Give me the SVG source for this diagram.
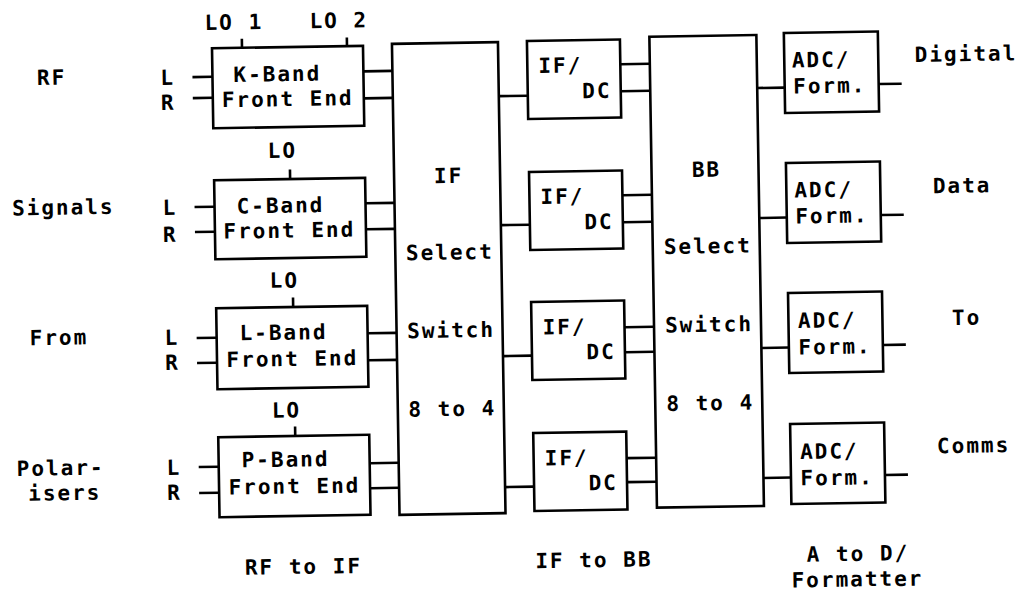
<svg xmlns="http://www.w3.org/2000/svg" width="1022" height="591" viewBox="0 0 1022 591">
<style>
.box{fill:#fff;stroke:#000;stroke-width:2.6}
.w{fill:none;stroke:#000;stroke-width:2.6}
text{font-family:"DejaVu Sans Mono","Liberation Mono",monospace;font-size:21px;font-weight:bold;letter-spacing:2px;fill:#000}
.c{text-anchor:middle}
</style>
<rect width="1022" height="591" fill="#fff"/>
<g transform="rotate(-0.92 511 295)">
<g id="connectors">
<path class="w" d="M196 72H216M196 93H216M196 202H216M196 227H216M196 333H216M196 358H216M196 462H216M196 488H216"/>
<path class="w" d="M246 34.5V43.5M351 35V43.5M292 166V175.5M293 294V303.5M293 423V432.5"/>
<path class="w" d="M367 69H396M367 96H396M367 201H396M367 227H396M367 331H396M367 358H396M367 461H396M367 486H396"/>
<path class="w" d="M502 96H531M502 225H531M502 356H531M502 487H531"/>
<path class="w" d="M624 66H653.5M624 93H653.5M624 197H653.5M624 224H653.5M624 329H653.5M624 354H653.5M624 460H653.5M624 484H653.5"/>
<path class="w" d="M760.5 92H788M760.5 222H788M760.5 352H788M760.5 482H788"/>
<path class="w" d="M882 90H905M882 221H905M882 351H905M882 481H905"/>
</g>
<g id="kband">
<rect class="box" x="216" y="43.5" width="151" height="80"/>
<text x="237" y="77.5">K-Band</text>
<text x="225" y="102.5">Front End</text>
</g>
<g id="cband">
<rect class="box" x="216" y="175.5" width="151" height="79"/>
<text x="238" y="209">C-Band</text>
<text x="224.5" y="234">Front End</text>
</g>
<g id="lband">
<rect class="box" x="216" y="303.5" width="151" height="81"/>
<text x="239" y="336">L-Band</text>
<text x="225.5" y="362.5">Front End</text>
</g>
<g id="pband">
<rect class="box" x="216" y="432.5" width="151" height="80"/>
<text x="239" y="463">P-Band</text>
<text x="225.5" y="490">Front End</text>
</g>
<g id="ifswitch">
<rect class="box" x="396" y="42" width="106" height="471"/>
<text class="c" x="450.5" y="182">IF</text>
<text class="c" x="450.5" y="258.5">Select</text>
<text class="c" x="450.5" y="336.5">Switch</text>
<text class="c" x="450.5" y="415">8 to 4</text>
</g>
<g id="ifdc1">
<rect class="box" x="531" y="41.3" width="93" height="78"/>
<text x="542" y="73.5">IF/</text>
<text x="585.5" y="99.5">DC</text>
</g>
<g id="ifdc2">
<rect class="box" x="531" y="172.3" width="93" height="78"/>
<text x="542" y="204.5">IF/</text>
<text x="585.5" y="230.5">DC</text>
</g>
<g id="ifdc3">
<rect class="box" x="531" y="302.3" width="93" height="78"/>
<text x="542" y="335">IF/</text>
<text x="585.5" y="360.5">DC</text>
</g>
<g id="ifdc4">
<rect class="box" x="531" y="433.4" width="93" height="78"/>
<text x="542" y="466">IF/</text>
<text x="585.5" y="491.5">DC</text>
</g>
<g id="bbswitch">
<rect class="box" x="653.5" y="39" width="107" height="471"/>
<text class="c" x="708.5" y="180">BB</text>
<text class="c" x="708.5" y="256.5">Select</text>
<text class="c" x="708.5" y="335">Switch</text>
<text class="c" x="708.5" y="413.5">8 to 4</text>
</g>
<g id="adc1">
<rect class="box" x="788" y="37.4" width="94" height="80"/>
<text x="795.5" y="72">ADC/</text>
<text x="796.5" y="98">Form.</text>
</g>
<g id="adc2">
<rect class="box" x="788" y="167.4" width="94" height="80"/>
<text x="796" y="202">ADC/</text>
<text x="796.5" y="228">Form.</text>
</g>
<g id="adc3">
<rect class="box" x="788" y="297.5" width="94" height="80"/>
<text x="797.5" y="332.5">ADC/</text>
<text x="797.5" y="359">Form.</text>
</g>
<g id="adc4">
<rect class="box" x="788" y="428.5" width="94" height="80"/>
<text x="797.5" y="463.5">ADC/</text>
<text x="797.5" y="490">Form.</text>
</g>
<g id="labels">
<text x="209" y="25">LO 1</text>
<text x="314" y="25">LO 2</text>
<text x="270" y="154">LO</text>
<text x="270" y="284">LO</text>
<text x="270" y="414">LO</text>
<text x="164" y="79.5">L</text>
<text x="164" y="104.5">R</text>
<text x="164" y="209.5">L</text>
<text x="164" y="236.5">R</text>
<text x="164" y="339.5">L</text>
<text x="164" y="364.5">R</text>
<text x="164" y="469.5">L</text>
<text x="164" y="494.5">R</text>
<text x="40.5" y="77.5">RF</text>
<text x="13.5" y="207.5">Signals</text>
<text x="29" y="337.5">From</text>
<text x="14" y="468">Polar-</text>
<text x="25" y="493">isers</text>
<text x="918.5" y="68.5">Digital</text>
<text x="934.5" y="200">Data</text>
<text x="951.5" y="332">To</text>
<text x="934.5" y="460">Comms</text>
<text x="240.5" y="570.5">RF to IF</text>
<text x="531" y="568.5">IF to BB</text>
<text x="802.5" y="566.5">A to D/</text>
<text x="787" y="592">Formatter</text>
</g>
</g>
</svg>
